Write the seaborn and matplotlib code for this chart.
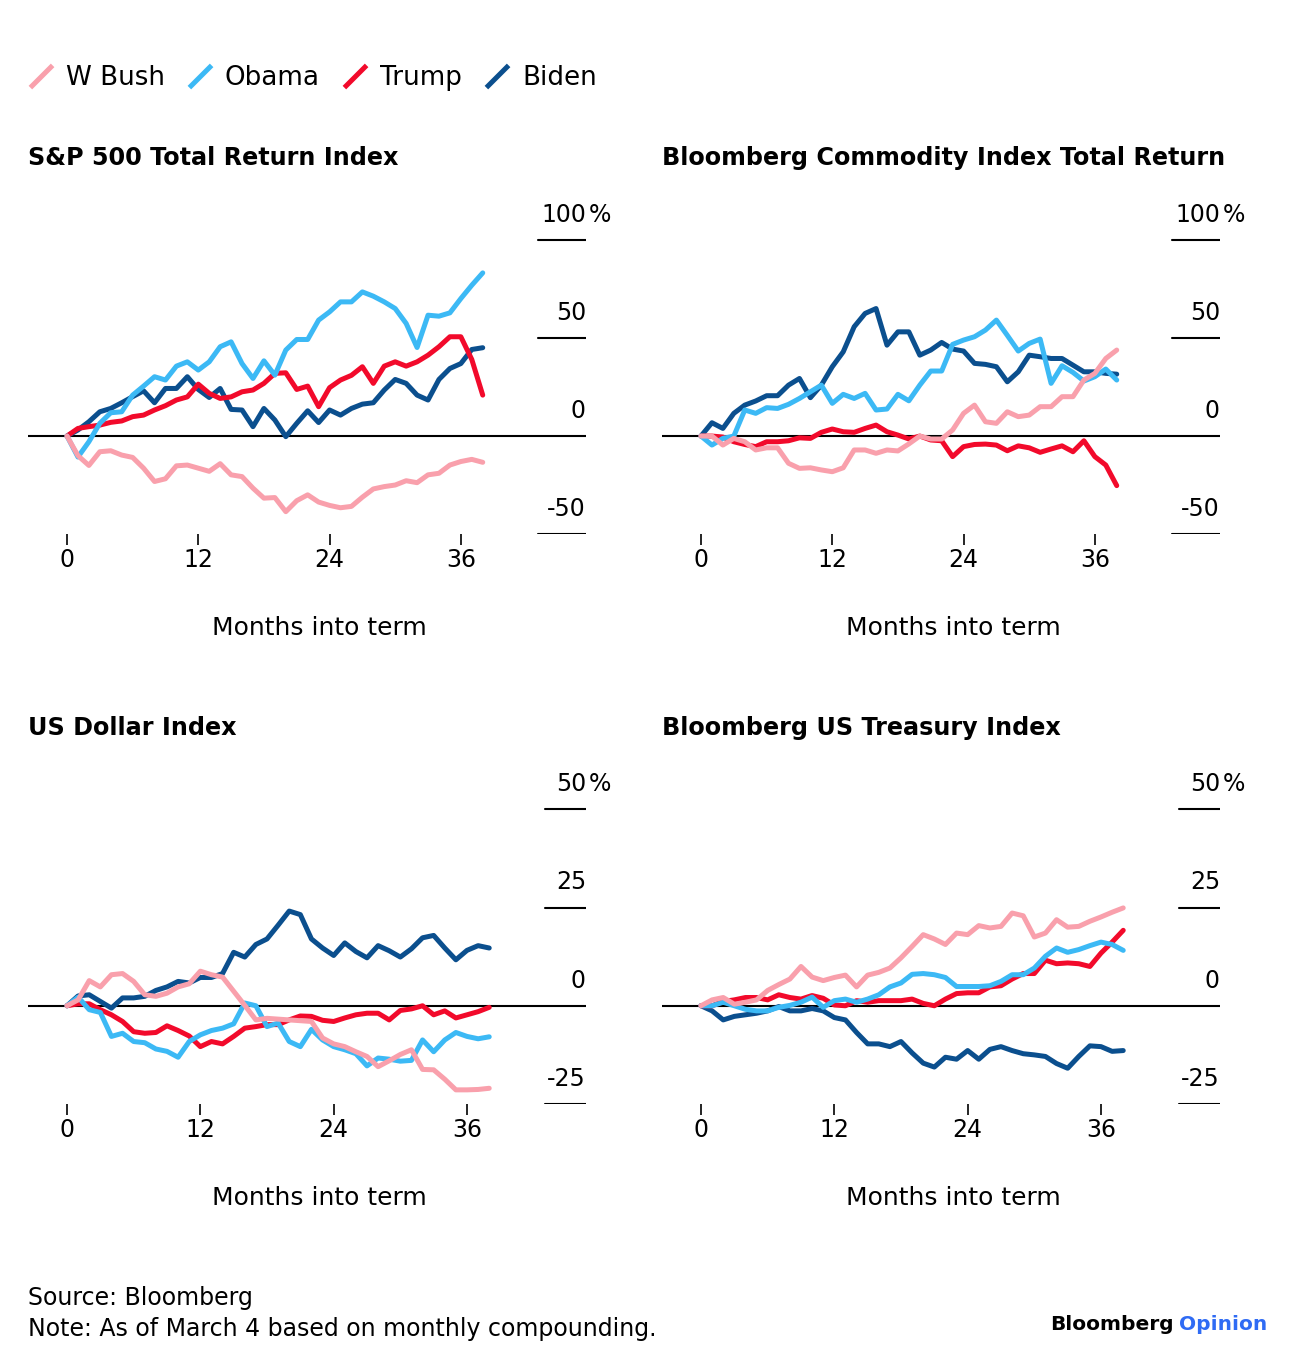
import matplotlib
matplotlib.use("Agg")
import matplotlib.pyplot as plt
from matplotlib.lines import Line2D
from matplotlib.path import Path
import pandas as pd
import seaborn as sns

# -------------------- DATA --------------------
presidents = ["W Bush", "Obama", "Trump", "Biden"]
months = list(range(39))
x_ticks = [0, 12, 24, 36]

# S&P 500 Total Return Index (% change since start of term)
sp_bush = [0, -10, -15, -8, -7.5, -9.7, -10.9, -16.4, -23.2, -21.8, -15.2, -14.8, -16.4, -18, -14.1, -19.8, -20.7,
           -26.6, -31.7, -31.4, -38.6, -33, -30, -33.7, -35.4, -36.6, -35.9, -31.2, -27, -25.8, -25, -22.8, -23.8,
           -19.8, -19, -14.8, -13, -11.9, -13.4]
sp_obama = [0, -10.7, -2.9, 6.5, 11.9, 12.4, 20.9, 25.5, 30.3, 28.6, 35.7, 37.9, 33.7, 37.9, 45.6, 48.1, 37, 29.4,
            38.4, 31.1, 43.9, 49.3, 49.3, 59.2, 63.4, 68.5, 68.5, 73.6, 71.4, 68.5, 65.1, 57.5, 45.2, 61.7, 61.2,
            62.9, 70.2, 77, 83.3]
sp_trump = [0, 3.9, 4.8, 5.6, 7, 7.7, 9.9, 10.7, 13.3, 15.5, 18.4, 20, 26.5, 21.8, 19.2, 20, 22.6, 23.5, 26.9, 32,
            32.3, 23.8, 25.5, 15, 24.7, 28.6, 31, 35.4, 26.9, 35.7, 37.9, 35.7, 37.9, 41.3, 45.6, 50.7, 50.7, 39.1,
            20.9]
sp_biden = [0, 3.1, 7.3, 12.4, 14.1, 17, 20.1, 23.1, 17, 24.3, 24.3, 30.3, 23.8, 19.7, 24.3, 13.6, 13.3, 4.8, 14.1,
            8.2, -0.3, 6.5, 12.9, 6.9, 13.3, 10.7, 14.1, 16.3, 17, 23.5, 28.9, 26.9, 20.9, 18.4, 28.9, 34.5, 37, 44.2,
            45.1]

# Bloomberg Commodity Index Total Return
cmd_bush = [0, 0, -4.6, -1.2, -2.9, -7.1, -6, -6, -13.9, -16.5, -16.2, -17.3, -18.2, -16.2, -7.1, -7.1, -8.8, -7.1,
            -7.6, -4, 0, -1.5, -1.5, 3.1, 11.6, 15.8, 7.3, 6.5, 12.4, 9.9, 10.7, 15, 15, 20.1, 20.1, 28.6, 32, 39.6,
            43.9]
cmd_obama = [0, -4.6, -1.2, 0, 13.3, 11.6, 14.5, 14.1, 16.2, 19.2, 22.6, 26, 16.7, 21.3, 19.2, 21.8, 13.3, 13.8,
             21.3, 18, 26, 33.2, 33.2, 46.8, 49, 50.7, 54.1, 59.2, 51.4, 43.4, 47.3, 49.5, 26.9, 35.9, 32.5, 28.1,
             30.3, 34.2, 28.6]
cmd_trump = [0, 0, -0.5, -2.9, -4.3, -5.4, -2.9, -2.9, -2.4, -0.9, -1.2, 1.9, 3.6, 2.2, 1.9, 3.9, 5.6, 2.2, 0.5,
             -1.5, 0, -2, -2.4, -10.5, -5.4, -4.3, -4.1, -4.6, -7.5, -5, -6, -8.3, -6.6, -5, -8, -2.4, -10.5, -14.8,
             -25.3]
cmd_biden = [0, 6.8, 3.9, 11.6, 15.8, 17.9, 20.6, 20.6, 26, 29.4, 19.6, 26, 35.4, 43, 55.8, 62.6, 65.1, 46.4, 53.2,
             53.2, 41.3, 43.9, 47.8, 44.4, 43.4, 37.1, 36.6, 35.4, 27.7, 32.8, 41.3, 40.5, 39.6, 39.6, 36.2, 32.8,
             32.8, 32, 31.6]

# US Dollar Index
usd_bush = [0, 1.5, 6.4, 4.8, 7.9, 8.2, 6.2, 2.8, 2.4, 3.2, 4.8, 5.6, 8.8, 7.9, 7.3, 3.7, 0.1, -3.6, -3.2, -3.4,
            -3.6, -3.8, -4, -8.2, -9.7, -10.4, -11.7, -12.9, -15.5, -14, -12.4, -11.2, -16.2, -16.3, -18.7, -21.4,
            -21.4, -21.3, -21]
usd_obama = [0, 2.2, -1, -1.7, -7.8, -7, -9.1, -9.4, -11, -11.6, -13.1, -9.1, -7.4, -6.3, -5.7, -4.6, 0.7, 0, -5.3,
             -4.4, -9.1, -10.4, -6, -8.7, -10.4, -11.2, -12.2, -15.3, -13.3, -13.6, -14.1, -13.9, -8.7, -11.7, -8.7,
             -6.8, -7.8, -8.4, -7.9]
usd_trump = [0, 0.5, 0.5, -1, -2.3, -4, -6.6, -7, -6.8, -5.1, -6.3, -7.7, -10.4, -9.1, -9.7, -7.8, -5.7, -5.3, -4.8,
             -4.8, -3.6, -2.6, -2.7, -3.7, -4, -3.1, -2.3, -1.9, -1.9, -3.6, -1.2, -0.8, 0, -2.3, -1.3, -3.1, -2.3,
             -1.5, -0.4]
usd_biden = [0, 2.5, 2.8, 1.1, -0.6, 2, 2, 2.4, 3.9, 4.8, 6.2, 5.8, 7.2, 7.2, 8.2, 13.6, 12.4, 15.6, 17, 20.5, 24.1,
             23.2, 17, 14.7, 12.8, 16, 13.8, 12.2, 15.3, 14, 12.4, 14.5, 17.3, 17.9, 14.7, 11.7, 14.1, 15.3, 14.7]

# Bloomberg US Treasury Index
tsy_bush = [0, 1.5, 2.1, 0.4, 0.9, 1.5, 3.9, 5.4, 6.8, 10, 7.3, 6.4, 7.2, 7.8, 4.8, 7.8, 8.5, 9.6, 12.2, 15.1, 18.1,
            17, 15.6, 18.5, 18.1, 20.4, 19.8, 20.2, 23.6, 22.9, 17.5, 18.5, 21.9, 20, 20.2, 21.5, 22.6, 23.8, 24.9]
tsy_obama = [0, 0, 0.9, 0, -0.9, -1.3, -1.3, -0.4, 0.1, 0.9, 2.2, -0.4, 1.3, 1.7, 0.9, 1.7, 2.8, 4.8, 5.8, 8, 8.2,
             7.9, 7.2, 4.9, 4.9, 4.9, 5.1, 6.2, 7.9, 7.9, 9.6, 12.6, 14.7, 13.6, 14.3, 15.3, 16.2, 15.6, 14.1]
tsy_trump = [0, 0, 1.1, 1.5, 2.1, 2.1, 1.5, 2.8, 2.1, 1.7, 2.6, 1.9, 0.2, 0, 1.3, 0.9, 1.3, 1.3, 1.3, 1.7, 0.6, 0,
             1.7, 3.1, 3.3, 3.3, 4.8, 5.1, 6.8, 8.2, 8.2, 11.6, 10.7, 10.9, 10.7, 10, 13.4, 16.2, 19.2]
tsy_biden = [0, -1.3, -3.6, -2.7, -2.3, -1.9, -1.3, -0.2, -1.3, -1.3, -0.7, -1.3, -3, -3.6, -6.8, -9.7, -9.7, -10.4,
             -9.1, -12, -14.6, -15.6, -13.1, -13.6, -11.4, -13.6, -11.1, -10.4, -11.4, -12.2, -12.5, -12.9, -14.7,
             -15.9, -12.9, -10.2, -10.4, -11.6, -11.4]

titles = ["S&P 500 Total Return Index", "Bloomberg Commodity Index Total Return",
          "US Dollar Index", "Bloomberg US Treasury Index"]
yticks_top = [-50, 0, 50, 100]
yticks_bottom = [-25, 0, 25, 50]


def to_long(bush, obama, trump, biden):
    frames = []
    for name, vals in zip(presidents, [bush, obama, trump, biden]):
        frames.append(pd.DataFrame({"month": months, "value": vals, "president": name}))
    return pd.concat(frames, ignore_index=True)


panel_data = [to_long(sp_bush, sp_obama, sp_trump, sp_biden),
              to_long(cmd_bush, cmd_obama, cmd_trump, cmd_biden),
              to_long(usd_bush, usd_obama, usd_trump, usd_biden),
              to_long(tsy_bush, tsy_obama, tsy_trump, tsy_biden)]

# -------------------- STYLE --------------------
sns.set_style("white")
plt.rcParams["font.family"] = ["DejaVu Sans"]
plt.rcParams["text.color"] = "black"
plt.rcParams["axes.labelcolor"] = "black"
plt.rcParams["xtick.color"] = "black"

colors = {"W Bush": "#F9A0AC", "Obama": "#3CB9F5", "Trump": "#F20A2B", "Biden": "#0B4F8E"}
draw_order = ["Biden", "Trump", "Obama", "W Bush"]

W, H = 1296, 1368
fig = plt.figure(figsize=(W / 100, H / 100), dpi=100)

# layout in pixels: (left, bottom, height, ylim, xlim, yticks, tick line start)
layout = [
    (28, 534, 333, (-50, 120), (-3.565, 47.44), yticks_top, 0.914),
    (662, 534, 333, (-50, 120), (-3.565, 47.44), yticks_top, 0.914),
    (28, 1104, 334, (-25, 60), (-3.51, 46.71), yticks_bottom, 0.9265),
    (662, 1104, 334, (-25, 60), (-3.51, 46.71), yticks_bottom, 0.9265),
]
title_y = [158, 158, 728, 728]

for i, (left, bottom, height, ylim, xlim, yticks, tick_start) in enumerate(layout):
    ax = fig.add_axes([left / W, (H - bottom) / H, 558 / W, height / H])

    # zero line and short right-hand grid ticks
    ax.axhline(0, color="black", lw=1.5, zorder=1)
    for v in yticks:
        if v != 0:
            ax.axhline(v, xmin=tick_start, xmax=1, color="black", lw=1.5, zorder=1)

    sns.lineplot(data=panel_data[i], x="month", y="value", hue="president", hue_order=draw_order,
                 palette=colors, linewidth=3.6, estimator=None, legend=False, ax=ax,
                 solid_joinstyle="round", zorder=3)

    ax.set_xlim(*xlim)
    ax.set_ylim(*ylim)
    for s in ax.spines.values():
        s.set_visible(False)
    ax.set_yticks([])
    ax.set_xticks(x_ticks)
    ax.set_xticklabels([str(t) for t in x_ticks])
    ax.tick_params(axis="x", bottom=True, length=8, width=1.2, pad=2, labelsize=17,
                   colors="black", labelcolor="black")
    ax.set_xlabel("Months into term", fontsize=18, color="black")
    ax.xaxis.label.set_va("center")
    ax.xaxis.set_label_coords(0.5215, -94 / height)
    ax.set_ylabel("")

    # right-side tick labels sitting above their tick lines
    ytrans = ax.get_yaxis_transform()
    for v in yticks:
        ax.annotate(str(v), xy=(1, v), xycoords=ytrans, xytext=(0, 13), textcoords="offset points",
                    ha="right", va="baseline", fontsize=17, color="black")
    ax.annotate("%", xy=(1, yticks[-1]), xycoords=ytrans, xytext=(2, 13), textcoords="offset points",
                ha="left", va="baseline", fontsize=17, color="black")

    fig.text(left / W, 1 - title_y[i] / H, titles[i], fontsize=17.2, fontweight="bold",
             ha="left", va="center", color="black")

# -------------------- LEGEND --------------------
slash = Path([(-1, -1), (1, 1)], [Path.MOVETO, Path.LINETO])
handles = [Line2D([], [], linestyle="none", marker=slash, markersize=16, markeredgewidth=3.6,
                  markeredgecolor=colors[p], markerfacecolor="none") for p in presidents]
leg = fig.legend(handles, presidents, loc="center left", bbox_to_anchor=(28 / W, 1 - 78 / H), ncol=4,
                 frameon=False, fontsize=18.8, handlelength=1.0, handletextpad=0.45, columnspacing=0.85,
                 borderaxespad=0, borderpad=0)
for t in leg.get_texts():
    t.set_color("black")

# -------------------- FOOTER --------------------
fig.text(28 / W, 1 - 1298 / H, "Source: Bloomberg", fontsize=17, ha="left", va="center", color="black")
fig.text(28 / W, 1 - 1329 / H, "Note: As of March 4 based on monthly compounding.", fontsize=17,
         ha="left", va="center", color="black")
fig.text(1174 / W, 1 - 1324 / H, "Bloomberg", fontsize=14.5, fontweight="bold", ha="right", va="center",
         color="black")
fig.text(1179 / W, 1 - 1324 / H, "Opinion", fontsize=14.5, fontweight="bold", color="#2F6BF4",
         ha="left", va="center")

fig.savefig("out.png", dpi=100)
